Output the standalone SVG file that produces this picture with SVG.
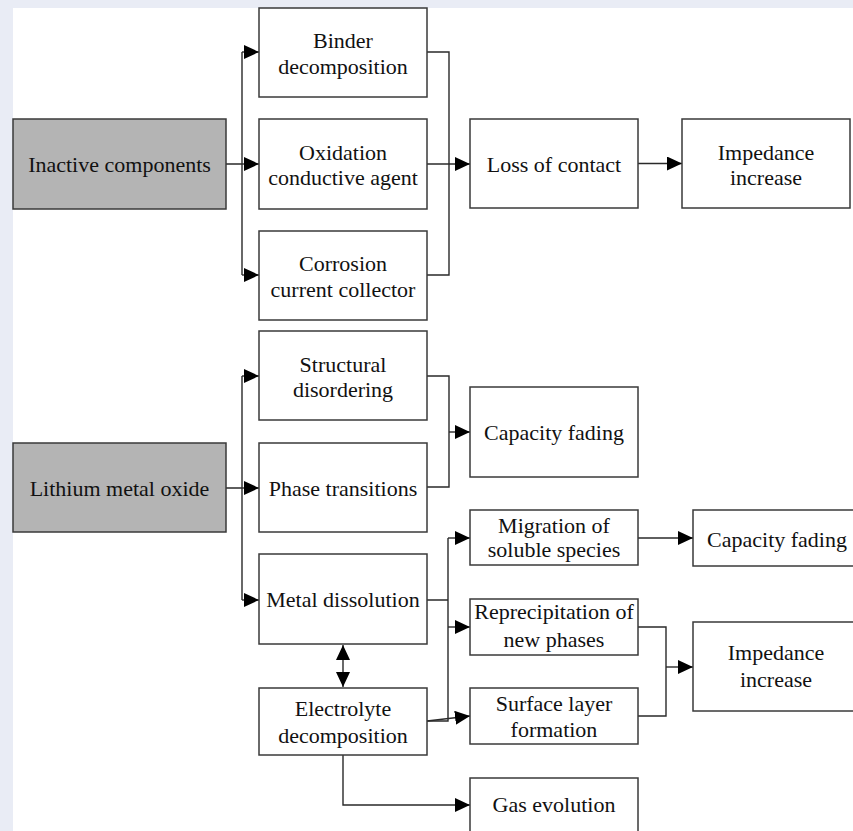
<svg xmlns="http://www.w3.org/2000/svg" width="853" height="831" viewBox="0 0 853 831">
<defs>
<style>
.bx{fill:#ffffff;stroke:#3a3a3a;stroke-width:1.5}
.gr{fill:#b4b4b4;stroke:#3a3a3a;stroke-width:1.5}
.t{font-family:"Liberation Serif","Times New Roman",serif;font-size:22px;fill:#111;text-anchor:middle}
.ln{fill:none;stroke:#2a2a2a;stroke-width:1.4}
.ar{fill:none;stroke:#2a2a2a;stroke-width:1.4;marker-end:url(#ah)}
</style>
<marker id="ah" markerUnits="userSpaceOnUse" markerWidth="16" markerHeight="15" refX="15" refY="7" orient="auto">
<path d="M0,0 L15,7 L0,14 z" fill="#000"/>
</marker>
<marker id="ahs" markerUnits="userSpaceOnUse" markerWidth="16" markerHeight="15" refX="15" refY="7" orient="auto-start-reverse">
<path d="M0,0 L15,7 L0,14 z" fill="#000"/>
</marker>
</defs>
<rect x="0" y="0" width="853" height="831" fill="#e9ecf5"/>
<rect x="13" y="8" width="840" height="823" fill="#ffffff"/>

<g id="connectors">
<path class="ln" d="M226,164 H242 M242,52 V275"/>
<path class="ar" d="M242,52 H259"/>
<path class="ar" d="M242,164 H259"/>
<path class="ar" d="M242,275 H259"/>
<path class="ln" d="M427,52 H449 V275 H427"/>
<path class="ar" d="M427,164 H470"/>
<path class="ar" d="M638,163.5 H682"/>

<path class="ln" d="M226,488 H242 M242,376 V600"/>
<path class="ar" d="M242,376 H259"/>
<path class="ar" d="M242,488 H259"/>
<path class="ar" d="M242,600 H259"/>
<path class="ln" d="M427,376 H449 V487 H427"/>
<path class="ar" d="M449,432 H470"/>

<path class="ln" d="M427,600 H448 M448,538 V721 H427"/>
<path class="ar" d="M448,538 H470"/>
<path class="ar" d="M448,627 H470"/>
<path class="ar" d="M427,721 L470,716"/>
<path class="ar" d="M638,538 H693"/>
<path class="ln" d="M343,645 V687" marker-start="url(#ahs)" marker-end="url(#ahs)"/>
<path class="ar" d="M343,755 V805 H470"/>
<path class="ln" d="M638,627 H666 V716 H638"/>
<path class="ar" d="M666,667 H693"/>
</g>

<g id="inactive"><rect class="gr" x="13" y="119" width="213" height="90"/><text class="t" x="119.5" y="172">Inactive components</text></g>
<g id="binder"><rect class="bx" x="259" y="8" width="168" height="89"/><text class="t" x="343" y="48">Binder</text><text class="t" x="343" y="74">decomposition</text></g>
<g id="oxidation"><rect class="bx" x="259" y="119" width="168" height="90"/><text class="t" x="343" y="160">Oxidation</text><text class="t" x="343" y="185">conductive agent</text></g>
<g id="corrosion"><rect class="bx" x="259" y="231" width="168" height="89"/><text class="t" x="343" y="271">Corrosion</text><text class="t" x="343" y="297">current collector</text></g>
<g id="loss"><rect class="bx" x="470" y="119" width="168" height="89"/><text class="t" x="554" y="172">Loss of contact</text></g>
<g id="impedance1"><rect class="bx" x="682" y="119" width="168" height="89"/><text class="t" x="766" y="160">Impedance</text><text class="t" x="766" y="185">increase</text></g>

<g id="structural"><rect class="bx" x="259" y="331" width="168" height="89"/><text class="t" x="343" y="372">Structural</text><text class="t" x="343" y="397">disordering</text></g>
<g id="lithium"><rect class="gr" x="13" y="443" width="213" height="89"/><text class="t" x="119.5" y="496">Lithium metal oxide</text></g>
<g id="phase"><rect class="bx" x="259" y="443" width="168" height="89"/><text class="t" x="343" y="496">Phase transitions</text></g>
<g id="capacity1"><rect class="bx" x="470" y="387" width="168" height="90"/><text class="t" x="554" y="440">Capacity fading</text></g>
<g id="metal"><rect class="bx" x="259" y="554" width="168" height="90"/><text class="t" x="343" y="607">Metal dissolution</text></g>
<g id="electrolyte"><rect class="bx" x="259" y="688" width="168" height="67"/><text class="t" x="343" y="716">Electrolyte</text><text class="t" x="343" y="743">decomposition</text></g>
<g id="migration"><rect class="bx" x="470" y="510" width="168" height="55"/><text class="t" x="554" y="533">Migration of</text><text class="t" x="554" y="557">soluble species</text></g>
<g id="capacity2"><rect class="bx" x="693" y="510" width="168" height="56"/><text class="t" x="777" y="547">Capacity fading</text></g>
<g id="reprecipitation"><rect class="bx" x="470" y="599" width="168" height="56"/><text class="t" x="554" y="619">Reprecipitation of</text><text class="t" x="554" y="647">new phases</text></g>
<g id="surface"><rect class="bx" x="470" y="688" width="168" height="56"/><text class="t" x="554" y="711">Surface layer</text><text class="t" x="554" y="737">formation</text></g>
<g id="impedance2"><rect class="bx" x="693" y="622" width="168" height="89"/><text class="t" x="776" y="660">Impedance</text><text class="t" x="776" y="687">increase</text></g>
<g id="gas"><rect class="bx" x="470" y="778" width="168" height="70"/><text class="t" x="554" y="812">Gas evolution</text></g>
</svg>
